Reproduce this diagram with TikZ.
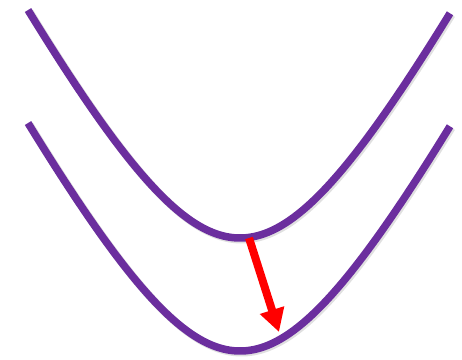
\documentclass[tikz,border=0pt]{standalone}
\usepackage{tikz}
\usepackage{xcolor}
\usetikzlibrary{arrows.meta}

\definecolor{bandpurple}{HTML}{6B2E9E}

\begin{document}
\begin{tikzpicture}[x=1pt,y=-1pt,
    band/.style={bandpurple, line width=7.5pt},
    bandshadow/.style={black!12, line width=8pt},
    droparrow/.style={red, line width=8pt, -{Triangle[width=24pt,length=23pt]}}]
    \useasboundingbox (0,0) rectangle (462,359);
    \draw [bandshadow] plot [domain=-212:210, samples=90, smooth] ({241.5+\x},{239.5-241*(sqrt(1+(\x/127)^2)-1)});
    \draw [bandshadow] plot [domain=-212:210, samples=90, smooth] ({241.5+\x},{352.5-241*(sqrt(1+(\x/127)^2)-1)});
    \draw [band] plot [domain=-212:210, samples=90, smooth] ({240+\x},{238-241*(sqrt(1+(\x/127)^2)-1)});
    \draw [band] plot [domain=-212:210, samples=90, smooth] ({240+\x},{351-241*(sqrt(1+(\x/127)^2)-1)});
    \coordinate (upmin) at (249,238);
    \coordinate (lowpt) at (279,332);
    \draw [droparrow] (upmin) -- (lowpt);
\end{tikzpicture}
\end{document}
